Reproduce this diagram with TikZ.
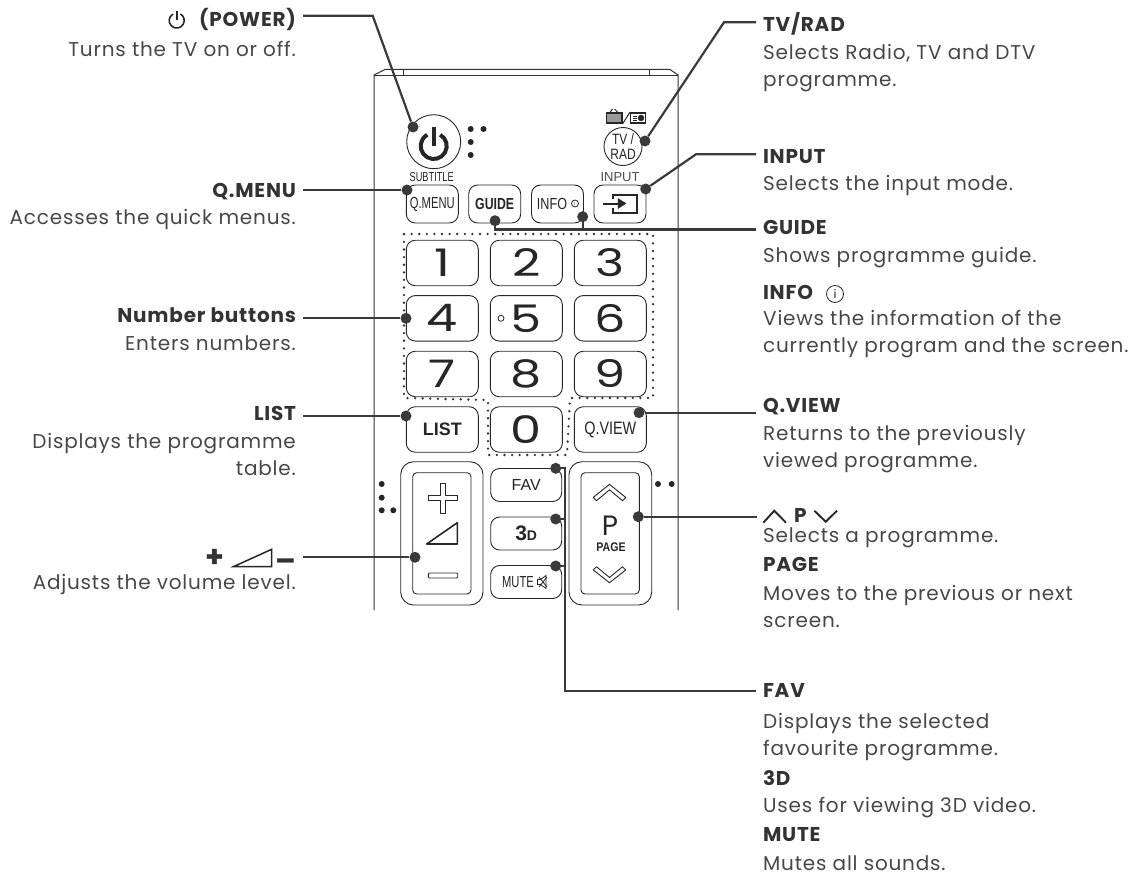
\documentclass[tikz,border=0pt]{standalone}
\usepackage{fontspec}
\setmainfont[LetterSpace=4]{Poppins}
\newfontfamily\digitfont{Poppins}
\newfontfamily\keyfont{Liberation Sans}
\usetikzlibrary{positioning}
\newcommand{\narrow}[2]{\scalebox{#1}[1]{#2}}
\definecolor{ink}{HTML}{3A3A3A}
\begin{document}
\begin{tikzpicture}[x=1pt, y=-1pt,
  titl/.style={font=\fontsize{20}{27}\selectfont\bfseries, text=black!80, inner xsep=7pt, inner ysep=0pt, outer sep=0pt},
  ltit/.style={titl, anchor=base east},
  rtit/.style={titl, anchor=base west},
  ldesc/.style={font=\fontsize{20}{27}\selectfont, text=black!72, align=right, anchor=base east, inner sep=0pt},
  rdesc/.style={font=\fontsize{20}{27}\selectfont, text=black!72, align=left, anchor=base west, inner sep=0pt},
  body/.style={draw=black!80, line width=1pt},
  btn/.style={draw=black!85, line width=0.9pt, rounded corners=9pt, inner sep=0pt, minimum height=38pt, minimum width=52pt, fill=white},
  num/.style={btn, minimum width=72pt, minimum height=45.5pt, font=\digitfont\fontsize{38}{38}\selectfont, text=black!85},
  mid/.style={btn, minimum width=71pt, minimum height=33pt},
  keytext/.style={font=\keyfont\fontsize{16}{16}\selectfont, text=black!85, inner sep=0pt},
  info/.style={circle, draw=black!85, line width=0.8pt, inner sep=0pt, text=black!85},
  shapeline/.style={draw=black!85, line width=0.9pt, line join=round},
  spot/.style={circle, fill=ink, inner sep=0pt, minimum size=11pt},
  pip/.style={circle, fill=black!85, inner sep=0pt, minimum size=6pt},
  lead/.style={draw=ink, line width=2.2pt}]
\useasboundingbox (0,0) rectangle (1133,875);
% ---------------- remote body ----------------
\draw[body] (374,610) -- (374,75) -- (385,69.5) -- (670,69.5) -- (678,75) -- (678,610);
\draw[body] (374,76) -- (678,76);
\draw[body] (403,69.5) -- (403,76);
\draw[body] (649,69.5) -- (649,76);
% ---------------- top row ----------------
\node[circle, draw=black!85, line width=0.9pt, minimum size=54pt, inner sep=0pt] (bpower) at (433.7,141.7) {};
\draw[black!85, line width=4pt] (433.7,146) ++(300:13) arc (300:600:13);
\draw[black!85, line width=4pt] (433.7,127) -- (433.7,146);
\node[pip] (p1) at (470.7,129) {};
\node[pip] (p2) at (483.5,129) {};
\node[pip] (p3) at (470.7,142) {};
\node[pip] (p4) at (470.7,155) {};
\node[circle, draw=black!85, line width=0.9pt, minimum size=38pt, inner sep=0pt, keytext, align=center, font=\keyfont\fontsize{15}{15}\selectfont] (btv) at (623,146.5) {\narrow{.8}{TV /}\\\narrow{.8}{RAD}};
\draw[black!85, line width=1.3pt, fill=black!40] (606.5,113) rectangle (622,123);
\draw[black!85, line width=1pt] (610,112.5) -- (612.5,109) (618,112.5) -- (614.5,109);
\draw[black!85, line width=1pt] (622.5,124) -- (630,112);
\draw[black!85, line width=1.3pt] (630.5,113) rectangle (645.5,123);
\draw[black!85, fill=black!85] (641,118) circle (3);
\draw[black!85, line width=0.8pt] (632.5,116) -- (637,116) (632.5,118) -- (637,118) (632.5,120) -- (637,120);
\node[keytext, font=\keyfont\fontsize{13}{13}\selectfont] (subt) at (431.7,176.7) {\narrow{.71}{SUBTITLE}};
\node[keytext, font=\keyfont\fontsize{13}{13}\selectfont, text=black!70] (inpt) at (620,176.7) {INPUT};
\node[btn, keytext] (bqmenu) at (432.3,204) {\narrow{.7}{Q.MENU}};
\node[btn, keytext, font=\keyfont\bfseries\fontsize{16}{16}\selectfont] (bguide) at (494.7,204) {\narrow{.77}{GUIDE}};
\node[btn] (binfo) at (557.5,204) {};
\node[keytext] (infotext) at (552,204) {\narrow{.79}{INFO}};
\node[info, minimum size=7pt, font=\keyfont\fontsize{5}{5}\selectfont] (infomark) at (575,203.5) {i};
\node[btn] (binput) at (620,204) {};
\draw[black!85, line width=2pt] (612.5,199) -- (612.5,194.8) -- (637,194.8) -- (637,212.8) -- (612.5,212.8) -- (612.5,208);
\draw[black!85, line width=2pt] (603.3,203.5) -- (620,203.5);
\draw[black!85, fill=black!85] (618,198.5) -- (626,203.5) -- (618,208.5) -- cycle;
% ---------------- number block ----------------
\draw[black!80, line width=2.6pt, line cap=round, dash pattern=on 0pt off 7.6pt] (404,234) -- (653,234) -- (653,398) -- (570,398) -- (567,455) -- (488,455) -- (488,400) -- (404,398) -- cycle;
\node[num] (b1) at (442.3,263) {\narrow{1.3}{1}};
\node[num] (b2) at (526.3,263) {\narrow{1.3}{2}};
\node[num] (b3) at (610.3,263) {\narrow{1.3}{3}};
\node[num] (b4) at (442.3,318.3) {\narrow{1.3}{4}};
\node[num] (b5) at (526.3,318.3) {\narrow{1.3}{5}};
\node[num] (b6) at (610.3,318.3) {\narrow{1.3}{6}};
\node[num] (b7) at (442.3,374) {\narrow{1.3}{7}};
\node[num] (b8) at (526.3,374) {\narrow{1.3}{8}};
\node[num] (b9) at (610.3,374) {\narrow{1.3}{9}};
\node[num] (b0) at (526.3,429.5) {\narrow{1.3}{0}};
\node[circle, draw=black!85, line width=0.8pt, minimum size=6pt, inner sep=0pt] (tick) at (501,318.3) {};
\node[num, keytext, font=\keyfont\bfseries\fontsize{18}{18}\selectfont] (blist) at (442.3,429.5) {LIST};
\node[num, keytext, font=\keyfont\fontsize{18}{18}\selectfont] (bqview) at (610.3,429.5) {\narrow{.8}{Q.VIEW}};
% ---------------- lower block ----------------
\draw[black!85, line width=0.9pt, rounded corners=13pt] (400.7,461.7) rectangle (483,605);
\draw[black!85, line width=0.9pt, rounded corners=4pt] (412.7,472.7) rectangle (471,594);
\draw[shapeline] (440.5,483.3) -- (445.5,483.3) -- (445.5,495.5) -- (457.7,495.5) -- (457.7,500.5) -- (445.5,500.5) -- (445.5,513) -- (440.5,513) -- (440.5,500.5) -- (428.3,500.5) -- (428.3,495.5) -- (440.5,495.5) -- cycle;
\draw[black!85, line width=1.6pt, line join=round] (426.7,544) -- (457.3,522.7) -- (457.3,544) -- cycle;
\draw[shapeline, rounded corners=1pt] (428.3,573) rectangle (457.7,578);
\draw[black!85, line width=0.9pt, rounded corners=13pt] (569,461.7) rectangle (651.7,605);
\draw[black!85, line width=0.9pt, rounded corners=4pt] (581,472.7) rectangle (639.3,594);
\draw[shapeline] (593.3,497.4) -- (609.5,484.3) -- (625.7,497.4) -- (622.5,500.7) -- (609.5,489.8) -- (596.5,500.7) -- cycle;
\draw[shapeline] (593.3,570) -- (596.5,566.7) -- (609.5,577.5) -- (622.5,566.7) -- (625.7,570) -- (609.5,582.7) -- cycle;
\node[font=\digitfont\fontsize{28}{28}\selectfont, text=black!85, inner sep=0pt, text height=20pt, text depth=0pt] (pchar) at (610,525.5) {P};
\node[keytext, font=\keyfont\bfseries\fontsize{12.5}{12.5}\selectfont, text height=9pt, text depth=0pt] (ppage) at (611,547.3) {\narrow{.85}{PAGE}};
\node[mid, keytext] (bfav) at (526.2,485) {FAV};
\node[mid, keytext, font=\keyfont\bfseries\fontsize{21}{21}\selectfont] (b3d) at (526.2,533.5) {3{\fontsize{14}{14}\selectfont D}};
\node[mid] (bmute) at (526.2,582) {};
\node[keytext] (mutext) at (518,582) {\narrow{.7}{MUTE}};
\draw[black!85, line width=0.8pt] (537.5,579.5) -- (540.5,579.5) -- (546,575.5) -- (546,588.5) -- (540.5,584.5) -- (537.5,584.5) -- cycle;
\draw[black!85, line width=0.8pt] (539,577) -- (547,587) (547,577) -- (539,587);
\node[pip] (p5) at (381.7,484) {};
\node[pip] (p6) at (381.7,497.7) {};
\node[pip] (p7) at (381.7,510.3) {};
\node[pip] (p8) at (393.3,510.3) {};
\node[pip] (p9) at (658,484) {};
\node[pip] (p10) at (671.7,484) {};
% ---------------- left labels ----------------
\node[ltit] (tpower) at (303,26.5) {(POWER)};
\draw[black!85, line width=1.6pt] (176.7,20.5) ++(300:7.5) arc (300:600:7.5);
\draw[black!85, line width=1.6pt] (176.7,11.5) -- (176.7,20);
\node[ldesc] (dcpower) at (296,57) {Turns the TV on or off.};
\node[ltit] (tqmenu) at (303,197.7) {Q.MENU};
\node[ldesc] (dcqmenu) at (296,224) {Accesses the quick menus.};
\node[ltit] (tnum) at (303,322.7) {Number buttons};
\node[ldesc] (dcnum) at (296,350) {Enters numbers.};
\node[ltit] (tlist) at (303,420.7) {LIST};
\node[ldesc] (dclist) at (296,475) {Displays the programme\\table.};
\node[ltit, font=\fontsize{30}{30}\selectfont\bfseries] (tvol) at (303,571) {--};
\node[titl, anchor=base, font=\fontsize{30}{30}\selectfont\bfseries] (tplus) at (215,567.5) {+};
\draw[black!85, line width=1.5pt] (233.3,566.7) -- (271.7,549.3) -- (271.7,566.7) -- cycle;
\node[ldesc] (dcvol) at (296,589.3) {Adjusts the volume level.};
% ---------------- right labels ----------------
\node[rtit] (ttv) at (756,32) {TV/RAD};
\node[rdesc] (dctv) at (763,86) {Selects Radio, TV and DTV\\programme.};
\node[rtit] (tinput) at (756,163) {INPUT};
\node[rdesc] (dcinput) at (763,190) {Selects the input mode.};
\node[rtit] (tguide) at (756,234) {GUIDE};
\node[rdesc] (dcguide) at (763,262.7) {Shows programme guide.};
\node[rtit] (tinfo) at (756,299) {INFO};
\node[info, minimum size=17pt, font=\digitfont\fontsize{12}{12}\selectfont] (iinfo) at (835,294) {i};
\node[rdesc] (dcinfo) at (763,352.7) {Views the information of the\\currently program and the screen.};
\node[rtit] (tqview) at (756,412.7) {Q.VIEW};
\node[rdesc] (dcqview) at (763,467) {Returns to the previously\\viewed programme.};
\node[rtit] (tp) at (787,522) {P};
\draw[black!85, line width=1.9pt] (763.3,522.7) -- (774.3,510.7) -- (786,522.7);
\draw[black!85, line width=1.9pt] (814.3,510.7) -- (825.7,521.7) -- (837,510.7);
\coordinate (epage) at (757,516.7);
\node[rdesc] (dcpage) at (763,542.7) {Selects a programme.};
\node[rtit] (tpage) at (756,571.7) {PAGE};
\node[rdesc] (dcpageb) at (763,627) {Moves to the previous or next\\screen.};
\node[rtit] (tfav) at (756,697) {FAV};
\node[rdesc] (dcfav) at (763,755.7) {Displays the selected\\favourite programme.};
\node[rtit] (t3d) at (756,785) {3D};
\node[rdesc] (dc3d) at (763,812.7) {Uses for viewing 3D video.};
\node[rtit] (tmute) at (756,841.7) {MUTE};
\node[rdesc] (dcmute) at (763,870) {Mutes all sounds.};
% ---------------- connectors ----------------
\node[spot] (spower) at (413,127) {};
\node[spot] (sqmenu) at (407,190) {};
\node[spot] (snum) at (406,318.3) {};
\node[spot] (slist) at (406,416) {};
\node[spot] (svol) at (415,557.3) {};
\node[spot] (stv) at (645,141) {};
\node[spot] (sinput) at (645.7,189) {};
\node[spot] (sguide) at (495,220.7) {};
\node[spot] (sinfo) at (582.7,216.7) {};
\node[spot] (sqview) at (639,412.7) {};
\node[spot] (spage) at (638.3,516.7) {};
\node[spot] (sfav) at (555.7,468.3) {};
\node[spot] (s3d) at (555.7,519) {};
\node[spot] (smute) at (555.7,566) {};
\coordinate (jpower) at (372.7,15.7);
\coordinate (jtv) at (724,22.3);
\coordinate (jinput) at (696,154.3);
\coordinate (jguide) at (582.7,229.5);
\coordinate (jfav) at (565,691);
\draw[lead] (spower) -- (jpower) -- (jpower -| tpower.east);
\draw[lead] (sqmenu) -- (sqmenu -| tqmenu.east);
\draw[lead] (snum) -- (snum -| tnum.east);
\draw[lead] (slist) -- (slist -| tlist.east);
\draw[lead] (svol) -- (svol -| tvol.east);
\draw[lead] (stv) -- (jtv) -- (jtv -| ttv.west);
\draw[lead] (sinput) -- (jinput) -- (jinput -| tinput.west);
\draw[lead] (sguide) |- (jguide) -- (jguide -| tguide.west);
\draw[lead] (sinfo) -- (jguide);
\draw[lead] (sqview) -- (sqview -| tqview.west);
\draw[lead] (spage) -- (epage);
\draw[lead] (sfav) -| (jfav) -- (jfav -| tfav.west);
\draw[lead] (s3d) -- (s3d -| jfav);
\draw[lead] (smute) -- (smute -| jfav);
\end{tikzpicture}
\end{document}
